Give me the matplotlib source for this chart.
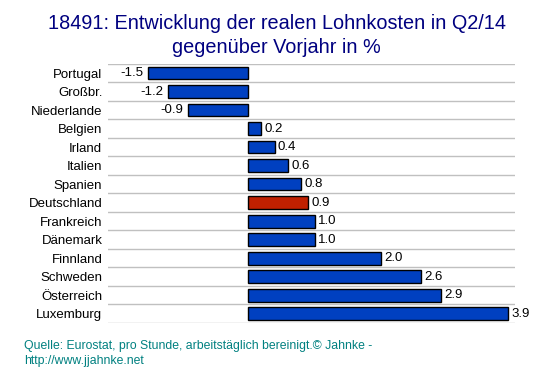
import numpy as np
import matplotlib
matplotlib.use("Agg")
import matplotlib.pyplot as plt

plt.rcParams.update({
    "font.family": ["Liberation Sans", "DejaVu Sans"],
    "font.size": 9,
})

countries = ["Portugal", "Großbr.", "Niederlande", "Belgien", "Irland", "Italien",
             "Spanien", "Deutschland", "Frankreich", "Dänemark", "Finnland",
             "Schweden", "Österreich", "Luxemburg"]
values = [-1.5, -1.2, -0.9, 0.2, 0.4, 0.6, 0.8, 0.9, 1.0, 1.0, 2.0, 2.6, 2.9, 3.9]
highlight = "Deutschland"

BLUE = "#0040c0"
RED = "#c02000"

fig = plt.figure(figsize=(5.53, 3.76), dpi=100)
ax = fig.add_axes([0.195, 0.141, 0.736, 0.689])

y = np.arange(len(countries))
colors = [RED if c == highlight else BLUE for c in countries]
ax.barh(y, values, height=0.68, color=colors, edgecolor="black", linewidth=1, zorder=3)

for yi, v in zip(y, values):
    if v >= 0:
        ax.text(v + 0.05, yi, f"{v:.1f}", va="center", ha="left", fontsize=9.5)
    else:
        ax.text(v - 0.07, yi, f"{v:.1f}", va="center", ha="right", fontsize=9.5)

ax.set_yticks(y)
ax.set_yticklabels(countries, fontsize=9.5)
ax.set_ylim(len(countries) - 0.5, -0.5)
ax.set_xlim(-2.1, 4.0)
ax.set_xticks([])
for b in np.arange(-0.5, len(countries), 1.0):
    ax.axhline(b, color="#c0c0c0", lw=1, zorder=1)
ax.tick_params(axis="y", length=0, pad=4)
for s in ax.spines.values():
    s.set_visible(False)

fig.text(0.5, 0.937, "18491: Entwicklung der realen Lohnkosten in Q2/14",
         ha="center", va="center", fontsize=14.3, color="#000080")
fig.text(0.5, 0.874, "gegenüber Vorjahr in %",
         ha="center", va="center", fontsize=14.3, color="#000080")
fig.text(0.043, 0.080, "Quelle: Eurostat, pro Stunde, arbeitstäglich bereinigt.© Jahnke -",
         ha="left", va="center", fontsize=8.8, color="#008080")
fig.text(0.043, 0.040, "http://www.jjahnke.net",
         ha="left", va="center", fontsize=8.8, color="#008080")

fig.savefig("out.png", dpi=100)
